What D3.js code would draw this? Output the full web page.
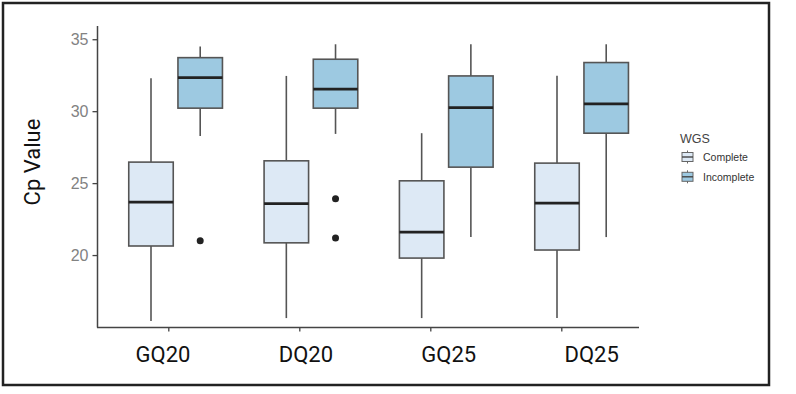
<!DOCTYPE html>
<html>
<head>
<meta charset="utf-8">
<script src="https://cdn.jsdelivr.net/npm/d3@7"></script>
<style>
  body { margin: 0; background: #fff; }
  svg { display: block; }
</style>
</head>
<body>
<svg id="chart" width="796" height="394"></svg>
<script>
// categories and series
const categories = ["GQ20", "DQ20", "GQ25", "DQ25"];
const groups = ["Complete", "Incomplete"];

// five number summaries: [lower whisker, q1, median, q3, upper whisker]
const completeStats = [
    [15.42, 20.63, 23.68, 26.46, 32.29],
    [15.62, 20.85, 23.58, 26.55, 32.45],
    [15.62, 19.79, 21.60, 25.16, 28.47],
    [15.62, 20.35, 23.61, 26.39, 32.47]
];
const incompleteStats = [
    [28.28, 30.21, 32.33, 33.72, 34.49],
    [28.42, 30.21, 31.53, 33.61, 34.65],
    [21.25, 26.11, 30.25, 32.45, 34.65],
    [21.25, 28.47, 30.51, 33.38, 34.65]
];
const completeOutliers = [[], [], [], []];
const incompleteOutliers = [[20.99], [23.91, 21.18], [], []];

const yTicks = [20, 25, 30, 35];

const colors = { Complete: "#dde9f5", Incomplete: "#9dc9e1" };

const svg = d3.select("#chart");

// outer frame
svg.append("rect")
    .attr("x", 3).attr("y", 3)
    .attr("width", 766).attr("height", 382)
    .attr("fill", "#fff")
    .attr("stroke", "#222")
    .attr("stroke-width", 2.5);

// scales
const y = d3.scaleLinear().domain([15.0, 35.92]).range([327, 26]);
const xBox = d3.scalePoint().domain(categories).range([175.6, 581.6]);
const xTick = d3.scalePoint().domain(categories).range([168.3, 561.3]);
const xLabel = d3.scalePoint().domain(categories).range([163, 591.6]);
const dodge = d3.scaleOrdinal().domain(groups).range([-24.6, 24.6]);
const boxW = 44.5;

const g = svg.append("g");

// boxes
const series = [
    { key: "Complete", stats: completeStats, outliers: completeOutliers },
    { key: "Incomplete", stats: incompleteStats, outliers: incompleteOutliers }
];

series.forEach(s => {
    const boxes = g.selectAll("g.box-" + s.key)
        .data(categories.map((c, i) => ({ cat: c, st: s.stats[i], out: s.outliers[i] })))
        .enter()
        .append("g")
        .attr("class", "box-" + s.key)
        .attr("transform", d => `translate(${xBox(d.cat) + dodge(s.key)},0)`);

    // whiskers
    boxes.append("line")
        .attr("y1", d => y(d.st[0])).attr("y2", d => y(d.st[1]))
        .attr("stroke", "#555").attr("stroke-width", 1.6);
    boxes.append("line")
        .attr("y1", d => y(d.st[3])).attr("y2", d => y(d.st[4]))
        .attr("stroke", "#555").attr("stroke-width", 1.6);

    boxes.append("rect")
        .attr("x", -boxW / 2)
        .attr("width", boxW)
        .attr("y", d => y(d.st[3]))
        .attr("height", d => y(d.st[1]) - y(d.st[3]))
        .attr("fill", colors[s.key])
        .attr("stroke", "#555")
        .attr("stroke-width", 1.6);

    // median
    boxes.append("line")
        .attr("x1", -boxW / 2).attr("x2", boxW / 2)
        .attr("y1", d => y(d.st[2])).attr("y2", d => y(d.st[2]))
        .attr("stroke", "#222").attr("stroke-width", 2.8);

    boxes.selectAll("circle")
        .data(d => d.out)
        .enter()
        .append("circle")
        .attr("cx", 0)
        .attr("cy", v => y(v))
        .attr("r", 3.5)
        .attr("fill", "#222");
});

// y axis
const yAxis = g.append("g")
    .attr("transform", "translate(97.5,0)")
    .call(d3.axisLeft(y).tickValues(yTicks).tickSize(5).tickPadding(4));
yAxis.select(".domain").remove();
yAxis.append("line")
    .attr("y1", 26).attr("y2", 327.5)
    .attr("stroke", "#444").attr("stroke-width", 1.5);
yAxis.selectAll(".tick line").attr("stroke", "#444").attr("stroke-width", 1.3);
yAxis.selectAll(".tick text")
    .attr("fill", "#828282")
    .style("font-family", "'Liberation Sans', Arial, sans-serif")
    .style("font-size", "16px");

// x axis
const xAxis = g.append("g")
    .attr("transform", "translate(0,327.5)")
    .call(d3.axisBottom(xTick).tickSize(4).tickFormat(""));
xAxis.select(".domain").remove();
xAxis.append("line")
    .attr("x1", 97).attr("x2", 639)
    .attr("stroke", "#444").attr("stroke-width", 1.5);
xAxis.selectAll(".tick line").attr("stroke", "#444").attr("stroke-width", 1.3);

g.selectAll("text.xlab")
    .data(categories)
    .enter()
    .append("text")
    .attr("class", "xlab")
    .attr("x", d => xLabel(d))
    .attr("y", 362)
    .attr("text-anchor", "middle")
    .attr("fill", "#111")
    .style("font-family", "Roboto, sans-serif")
    .style("font-size", "22px")
    .text(d => d);

// y title
g.append("text")
    .attr("transform", "translate(40,162) rotate(-90)")
    .attr("text-anchor", "middle")
    .attr("fill", "#111")
    .style("font-family", "Roboto, sans-serif")
    .style("font-size", "22px")
    .text("Cp Value");

// legend
const legend = svg.append("g").attr("transform", "translate(680,0)");
legend.append("text")
    .attr("x", 0).attr("y", 142.5)
    .attr("fill", "#444")
    .style("font-family", "'Liberation Sans', Arial, sans-serif")
    .style("font-size", "12.5px")
    .text("WGS");

const legendItems = legend.selectAll("g.item")
    .data(groups)
    .enter()
    .append("g")
    .attr("class", "item")
    .attr("transform", (d, i) => `translate(0,${157 + i * 19.8})`);

legendItems.append("line")
    .attr("x1", 7.5).attr("x2", 7.5).attr("y1", -6.5).attr("y2", 6.5)
    .attr("stroke", "#666").attr("stroke-width", 1);
legendItems.append("rect")
    .attr("x", 2).attr("y", -4.5)
    .attr("width", 11).attr("height", 9)
    .attr("fill", d => colors[d])
    .attr("stroke", "#666").attr("stroke-width", 1);
legendItems.append("line")
    .attr("x1", 2).attr("x2", 13).attr("y1", 0).attr("y2", 0)
    .attr("stroke", "#444").attr("stroke-width", 1.4);
legendItems.append("text")
    .attr("x", 23).attr("y", 4)
    .attr("fill", "#333")
    .style("font-family", "'Liberation Sans', Arial, sans-serif")
    .style("font-size", "10.5px")
    .text(d => d);
</script>
</body>
</html>
